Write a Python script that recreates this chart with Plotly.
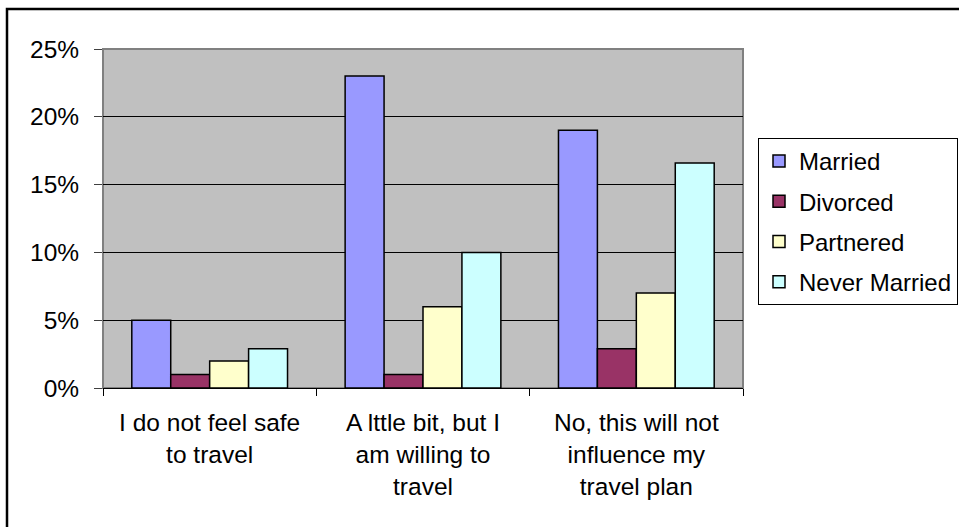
import plotly.graph_objects as go

categories = ["I do not feel safe<br>to travel",
              "A lttle bit, but I<br>am willing to<br>travel",
              "No, this will not<br>influence my<br>travel plan"]
series_names = ["Married", "Divorced", "Partnered", "Never Married"]
married = [0.05, 0.23, 0.19]
divorced = [0.01, 0.01, 0.029]
partnered = [0.02, 0.06, 0.07]
never_married = [0.029, 0.10, 0.166]
colors = ["#9999FF", "#993366", "#FFFFCC", "#CCFFFF"]
y_ticks = [0, 0.05, 0.10, 0.15, 0.20, 0.25]

W, H = 959, 527
L, R, T, B = 103, 743, 49, 388

fig = go.Figure()
for i, (name, vals) in enumerate(zip(series_names, [married, divorced, partnered, never_married])):
    fig.add_trace(go.Bar(
        x=categories, y=vals, name=name,
        marker=dict(color=colors[i], line=dict(color="black", width=1.5)),
        legendgroup=name,
    ))

font = dict(family="Liberation Sans, Arial, sans-serif", size=24.5, color="black")
legend_font = dict(family="Liberation Sans, Arial, sans-serif", size=24, color="black")

def px_x(px):
    return (px - L) / (R - L)

def px_y(py):
    return (B - py) / (B - T)

fig.update_layout(
    width=W, height=H,
    margin=dict(l=L, r=W - R, t=T, b=H - B, pad=0, autoexpand=False),
    paper_bgcolor="white",
    plot_bgcolor="#C0C0C0",
    barmode="group",
    bargap=0.27,
    bargroupgap=0,
    font=font,
    showlegend=True,
    legend=dict(
        x=px_x(758), xanchor="left",
        y=px_y(138), yanchor="top",
        bgcolor="white", bordercolor="black", borderwidth=1,
        font=legend_font, tracegroupgap=6,
        itemwidth=30,
    ),
    xaxis=dict(
        showgrid=False, showline=True, linecolor="black", linewidth=1,
        ticks="outside", ticklen=7, tickcolor="black", tickson="boundaries",
        tickfont=font, ticklabelstandoff=13,
    ),
    yaxis=dict(
        range=[0, 0.25], tickvals=y_ticks, tickformat=".0%",
        showgrid=True, gridcolor="black", gridwidth=1,
        showline=False, zeroline=False,
        ticks="outside", ticklen=8, tickcolor="#404040",
        tickfont=font, ticklabelstandoff=10,
    ),
    shapes=[
        dict(type="rect", xref="paper", yref="paper", x0=0, x1=1, y0=0, y1=1,
             line=dict(color="#808080", width=2), layer="below"),
        dict(type="rect", xref="paper", yref="paper",
             x0=px_x(7), x1=px_x(975), y0=px_y(9), y1=px_y(545),
             line=dict(color="black", width=2.5), fillcolor="rgba(0,0,0,0)", layer="above"),
    ],
)

fig.write_html("out.html")
